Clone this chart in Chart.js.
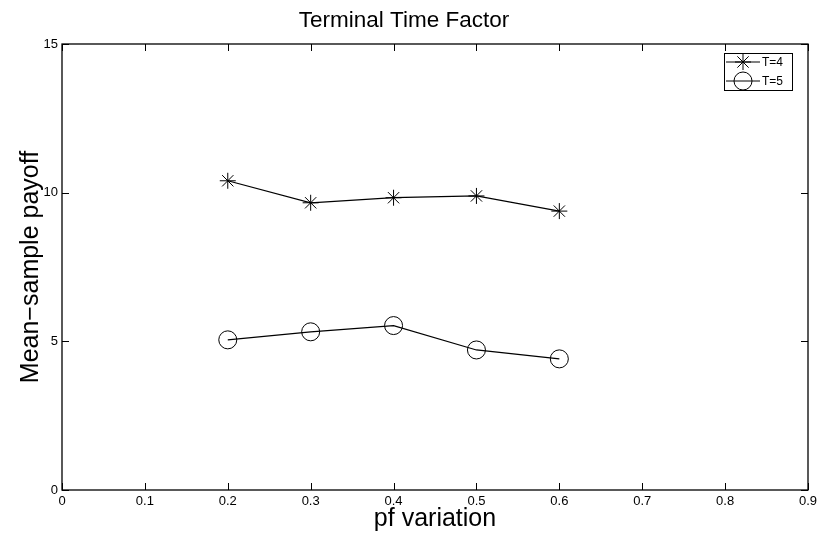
<!DOCTYPE html>
<html>
<head>
<meta charset="utf-8">
<script src="https://cdn.jsdelivr.net/npm/chart.js@4/dist/chart.umd.min.js"></script>
<style>
  html, body { margin: 0; padding: 0; background: #fff; }
  #wrap { width: 819px; height: 537px; }
</style>
</head>
<body>
<div id="wrap"><canvas id="termChart" width="819" height="537"></canvas></div>
<script>
// values
const pfVariation = [0.2, 0.3, 0.4, 0.5, 0.6];
const payoffT4 = [10.40, 9.66, 9.83, 9.89, 9.38];
const payoffT5 = [5.05, 5.32, 5.53, 4.71, 4.41];
const seriesLabels = ['T=4', 'T=5'];
const xTicks = [0, 0.1, 0.2, 0.3, 0.4, 0.5, 0.6, 0.7, 0.8, 0.9];
const yTicks = [0, 5, 10, 15];

const FONT = 'Liberation Sans, Arial, Helvetica, sans-serif';

// matlab-style box with inward ticks on all four sides
const boxPlugin = {
    id: 'boxTicks',
    afterDraw(chart) {
        const ctx = chart.ctx;
        const a = chart.chartArea;
        const xs = chart.scales.x, ys = chart.scales.y;
        const len = 7;
        ctx.save();
        ctx.strokeStyle = '#000';
        ctx.lineWidth = 1;
        ctx.beginPath();
        xTicks.forEach(v => {
            const px = Math.round(xs.getPixelForValue(v)) + 0.5;
            ctx.moveTo(px, a.bottom); ctx.lineTo(px, a.bottom - len);
            ctx.moveTo(px, a.top); ctx.lineTo(px, a.top + len);
        });
        yTicks.forEach(v => {
            const py = Math.round(ys.getPixelForValue(v)) + 0.5;
            ctx.moveTo(a.left, py); ctx.lineTo(a.left + len, py);
            ctx.moveTo(a.right, py); ctx.lineTo(a.right - len, py);
        });
        ctx.stroke();
        ctx.lineWidth = 1.3;
        ctx.strokeRect(a.left, a.top, a.right - a.left, a.bottom - a.top);

        // legend box in the upper right corner
        const bx = a.right - 84, by = a.top + 9, bw = 68, bh = 37;
        ctx.fillStyle = '#fff';
        ctx.fillRect(bx, by, bw, bh);
        ctx.lineWidth = 1;
        ctx.strokeRect(bx + 0.5, by + 0.5, bw, bh);
        ctx.font = '12px ' + FONT;
        ctx.textBaseline = 'middle';
        chart.data.datasets.forEach((ds, i) => {
            const cy = by + 9 + i * 19;
            ctx.strokeStyle = '#000';
            ctx.lineWidth = 1;
            ctx.beginPath();
            ctx.moveTo(bx + 2, cy); ctx.lineTo(bx + 36, cy);
            ctx.stroke();
            ctx.fillStyle = 'rgba(0,0,0,0)';
            Chart.helpers.drawPoint(ctx, {
                pointStyle: ds.pointStyle, radius: ds.pointRadius,
                rotation: 0, borderWidth: 1
            }, bx + 19, cy);
            ctx.fillStyle = '#000';
            ctx.fillText(ds.label, bx + 38, cy + 1);
        });
        ctx.restore();
    }
};

new Chart(document.getElementById('termChart').getContext('2d'), {
    type: 'line',
    data: {
        datasets: [{
            label: seriesLabels[0],
            data: pfVariation.map((x, i) => ({ x: x, y: payoffT4[i] })),
            borderColor: '#000',
            backgroundColor: 'rgba(0,0,0,0)',
            borderWidth: 1.2,
            pointStyle: 'star',
            pointRadius: 8,
            pointBorderWidth: 1,
            pointBorderColor: '#000',
            tension: 0
        }, {
            label: seriesLabels[1],
            data: pfVariation.map((x, i) => ({ x: x, y: payoffT5[i] })),
            borderColor: '#000',
            backgroundColor: 'rgba(0,0,0,0)',
            borderWidth: 1.2,
            pointStyle: 'circle',
            pointRadius: 9,
            pointBorderWidth: 1,
            pointBorderColor: '#000',
            pointBackgroundColor: 'rgba(0,0,0,0)',
            tension: 0
        }]
    },
    options: {
        responsive: false,
        animation: false,
        layout: { padding: { left: 0, right: 11, top: 0, bottom: 0 } },
        plugins: {
            legend: { display: false },
            tooltip: { enabled: false },
            title: {
                display: true,
                text: 'Terminal Time Factor',
                color: '#000',
                font: { family: FONT, size: 22.5, weight: 'normal' },
                padding: { top: 7.5, bottom: 9.5 }
            }
        },
        scales: {
            x: {
                type: 'linear',
                min: 0,
                max: 0.9,
                afterBuildTicks: s => { s.ticks = xTicks.map(v => ({ value: v })); },
                afterFit: s => { s.height = 47; s.paddingLeft = 0; s.paddingRight = 0; },
                grid: { display: false, drawTicks: false },
                border: { display: false },
                ticks: {
                    color: '#000',
                    padding: 4,
                    maxRotation: 0,
                    font: { family: FONT, size: 13 },
                    callback: v => String(v)
                },
                title: {
                    display: true,
                    text: 'pf variation',
                    color: '#000',
                    font: { family: FONT, size: 25 },
                    padding: { top: 0, bottom: 2.5 }
                }
            },
            y: {
                min: 0,
                max: 15,
                afterBuildTicks: s => { s.ticks = yTicks.map(v => ({ value: v })); },
                afterFit: s => { s.width = 62; s.paddingTop = 0; s.paddingBottom = 0; },
                grid: { display: false, drawTicks: false },
                border: { display: false },
                ticks: {
                    color: '#000',
                    padding: 4,
                    font: { family: FONT, size: 13 }
                },
                title: {
                    display: true,
                    text: 'Mean\u2212sample payoff',
                    color: '#000',
                    font: { family: FONT, size: 25 },
                    padding: { top: 16, bottom: 0 }
                }
            }
        }
    },
    plugins: [boxPlugin]
});
</script>
</body>
</html>
